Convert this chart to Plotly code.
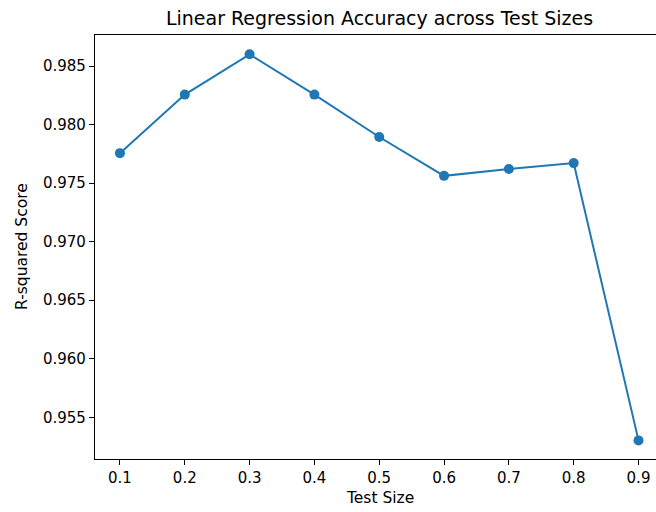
import plotly.graph_objects as go

test_sizes = [0.1, 0.2, 0.3, 0.4, 0.5, 0.6, 0.7, 0.8, 0.9]
r2_scores = [0.97756, 0.98256, 0.98600, 0.98256, 0.97894, 0.97562, 0.97620, 0.97671, 0.95303]
x_ticks = [0.1, 0.2, 0.3, 0.4, 0.5, 0.6, 0.7, 0.8, 0.9]
y_ticks = [0.955, 0.960, 0.965, 0.970, 0.975, 0.980, 0.985]

color = "#1f77b4"
font_family = "DejaVu Sans"

fig = go.Figure()
fig.add_trace(go.Scatter(
    x=test_sizes, y=r2_scores, mode="lines+markers",
    line=dict(color=color, width=2),
    marker=dict(color=color, size=10),
    showlegend=False,
))

fig.update_layout(
    width=656, height=512,
    margin=dict(l=95, r=0, t=35, b=53),
    paper_bgcolor="white", plot_bgcolor="white",
    font=dict(family=font_family, color="black", size=15),
    title=dict(text="Linear Regression Accuracy across Test Sizes",
               x=(95 + 664) / 2 / 656, xanchor="center",
               y=1 - 18 / 512, yanchor="middle",
               font=dict(size=19, family=font_family, color="black")),
    xaxis=dict(range=[0.0615, 0.927], tickvals=x_ticks,
               ticktext=[f"{v:.1f}" for v in x_ticks],
               showgrid=False, zeroline=False,
               showline=True, linecolor="black", linewidth=1.2, mirror=True,
               ticks="outside", ticklen=5, tickwidth=1, tickcolor="black",
               tickfont=dict(size=15)),
    yaxis=dict(range=[0.95144, 0.98765], tickvals=y_ticks,
               ticktext=[f"{v:.3f}" for v in y_ticks],
               showgrid=False, zeroline=False,
               showline=True, linecolor="black", linewidth=1.2, mirror=False,
               ticks="outside", ticklen=5, tickwidth=1, tickcolor="black",
               tickfont=dict(size=15)),
    annotations=[
        dict(text="Test Size", xref="paper", yref="paper",
             x=(379.5 - 95) / (656 - 95), y=-(498 - 459) / (459 - 35),
             xanchor="center", yanchor="middle", showarrow=False,
             font=dict(size=15.5, family=font_family, color="black")),
        dict(text="R-squared Score", xref="paper", yref="paper",
             x=-(95 - 22) / (656 - 95), y=0.5, textangle=-90,
             xanchor="center", yanchor="middle", showarrow=False,
             font=dict(size=15.5, family=font_family, color="black")),
    ],
)

fig.write_html("out.html")
